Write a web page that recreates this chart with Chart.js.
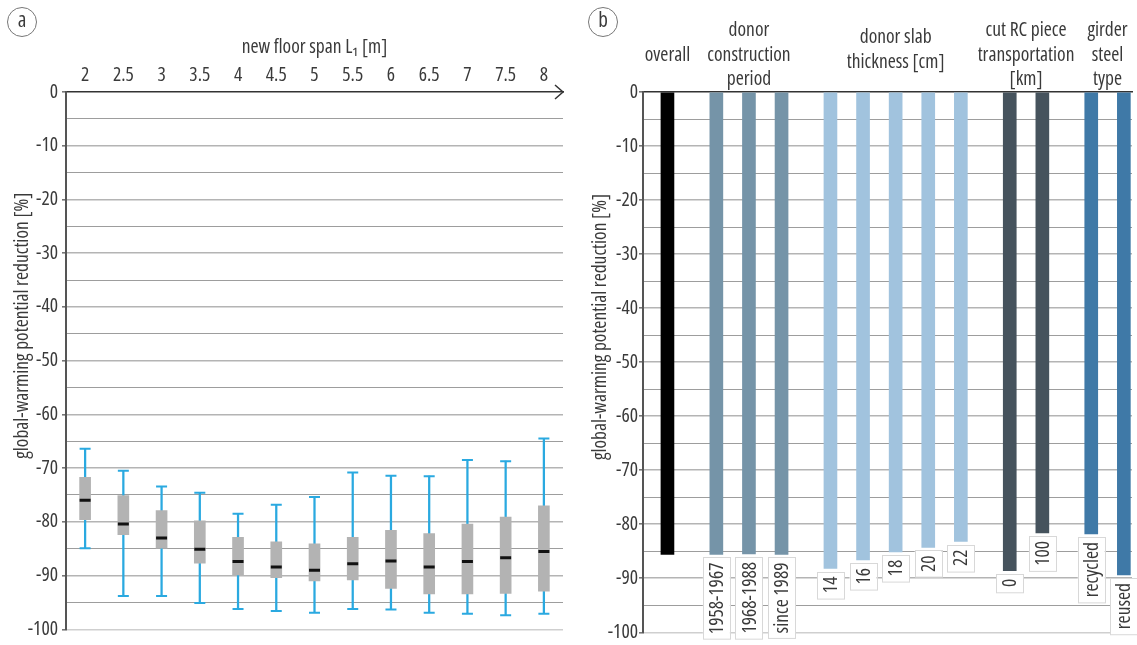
<!DOCTYPE html>
<html>
<head>
<meta charset="utf-8">
<script src="https://cdn.jsdelivr.net/npm/chart.js@4/dist/chart.umd.min.js"></script>
<style>
  html, body { margin: 0; padding: 0; background: #fff; }
  body { width: 1137px; height: 645px; position: relative; overflow: hidden; }
  #wrapA { position: absolute; left: 0; top: 0; width: 580px; height: 645px; }
  #wrapB { position: absolute; left: 580px; top: 0; width: 557px; height: 645px; }
</style>
</head>
<body>
<div id="wrapA"><canvas id="chartA" width="580" height="645"></canvas></div>
<div id="wrapB"><canvas id="chartB" width="557" height="645"></canvas></div>
<script>
// ---------- panel a : box plots per floor span ----------
const spanLabels = ['2', '2.5', '3', '3.5', '4', '4.5', '5', '5.5', '6', '6.5', '7', '7.5', '8'];
const whiskerTop = [-66.4, -70.5, -73.4, -74.6, -78.5, -76.8, -75.4, -70.8, -71.4, -71.5, -68.5, -68.7, -64.5];
const boxTop = [-71.7, -75.1, -77.9, -79.8, -82.9, -83.7, -84.1, -82.9, -81.6, -82.2, -80.4, -79.1, -77.0];
const medians = [-76.0, -80.4, -83.0, -85.1, -87.4, -88.4, -89.0, -87.8, -87.3, -88.4, -87.4, -86.7, -85.5];
const boxBottom = [-79.6, -82.4, -84.9, -87.7, -89.9, -90.4, -91.0, -90.8, -92.4, -93.4, -93.4, -93.3, -92.9];
const whiskerBottom = [-84.9, -93.8, -93.8, -95.1, -96.2, -96.6, -96.9, -96.2, -96.3, -96.9, -97.1, -97.4, -97.1];

// ---------- panel b : bars per parameter ----------
const slots = ['', 'overall', '', '', '1958-1967', '', '1968-1988', '', 'since 1989', '', '',
  '14', '', '16', '', '18', '', '20', '', '22', '', '', '0', '', '100', '', '', 'recycled', '', 'reused'];
const barNames = ['overall', '1958-1967', '1968-1988', 'since 1989', '14', '16', '18', '20', '22', '0', '100', 'recycled', 'reused'];
const barValues = [-85.6, -85.6, -85.5, -85.6, -88.2, -86.6, -85.1, -84.3, -83.2, -88.6, -81.6, -81.8, -89.4];
const barGroup = [0, 1, 1, 1, 2, 2, 2, 2, 2, 3, 3, 4, 4];
const groupTitles = [
  ['overall'],
  ['donor', 'construction', 'period'],
  ['donor slab', 'thickness [cm]'],
  ['cut RC piece', 'transportation', '[km]'],
  ['girder', 'steel', 'type']
];
const groupColors = ['#000000', '#7594a8', '#a1c3de', '#46535d', '#3f79a7'];

// Open Sans squeezed to its condensed width, close to the original typeface
const FONT = '"Open Sans", "DejaVu Sans Condensed", sans-serif';
const WEIGHT = '400 condensed';
const SIZE = 19.5;
const TEXT = '#3a3a3a';
const WHISKER = '#2aa9e0';
const Y_TITLE = 'global-warming potential reduction [%]';

Chart.defaults.font.family = FONT;
Chart.defaults.font.size = SIZE;
Chart.defaults.font.weight = WEIGHT;
Chart.defaults.color = TEXT;

function fontStr(size) {
  return `${WEIGHT} ${size}px ${FONT}`;
}

// shared y axis
function yAxis(width, labelPad) {
  return {
    min: -100,
    max: 0,
    afterFit: s => { s.width = width; },
    ticks: {
      stepSize: 5,
      autoSkip: false,
      padding: labelPad,
      callback: v => (v % 10 === 0 ? v : '')
    },
    grid: {
      color: c => {
        const v = c.tick.value;
        if (v === 0) return 'rgba(0,0,0,0)';
        if (v === -100) return '#cfcfcf';
        return v % 10 === 0 ? '#b4b4b4' : '#9d9d9d';
      },
      lineWidth: c => (c.tick.value % 10 === 0 ? 1.6 : 1),
      tickLength: 4,
      tickColor: c => (c.tick.value % 10 === 0 ? '#777' : 'rgba(0,0,0,0)')
    },
    border: { display: true, color: '#555', width: 2 },
    title: { display: false }
  };
}

// panel letter in a circle + the rotated y title (sits above the axis middle)
function panelDecor(letter, cx, titleX) {
  return {
    id: 'decor' + letter,
    afterDraw(chart) {
      const ctx = chart.ctx;
      ctx.save();
      ctx.beginPath();
      ctx.arc(cx, 22, 14.5, 0, Math.PI * 2);
      ctx.strokeStyle = '#777';
      ctx.lineWidth = 1;
      ctx.stroke();
      ctx.font = fontStr(21);
      ctx.fillStyle = TEXT;
      ctx.textAlign = 'center';
      ctx.textBaseline = 'middle';
      ctx.fillText(letter, cx, 21);

      const y = chart.scales.y.getPixelForValue(-43.5);
      ctx.font = fontStr(SIZE);
      ctx.translate(titleX, y);
      ctx.rotate(-Math.PI / 2);
      ctx.fillText(Y_TITLE, 0, 0);
      ctx.restore();
    }
  };
}

// arrow head on the top axis of panel a
const arrowPlugin = {
  id: 'arrow',
  afterDraw(chart) {
    const { right, top } = chart.chartArea;
    const ctx = chart.ctx;
    ctx.save();
    ctx.strokeStyle = '#333';
    ctx.lineWidth = 1.5;
    ctx.beginPath();
    ctx.moveTo(right - 8, top - 7);
    ctx.lineTo(right, top);
    ctx.lineTo(right - 8, top + 7);
    ctx.stroke();
    ctx.restore();
  }
};

new Chart(document.getElementById('chartA'), {
  type: 'bar',
  data: {
    labels: spanLabels,
    datasets: [
      {
        type: 'bar',
        data: whiskerBottom.map((lo, i) => [lo, whiskerTop[i]]),
        backgroundColor: WHISKER,
        barThickness: 1.6,
        grouped: false,
        order: 4
      },
      {
        type: 'bar',
        data: boxBottom.map((lo, i) => [lo, boxTop[i]]),
        backgroundColor: '#b3b3b3',
        barThickness: 11,
        grouped: false,
        order: 3
      },
      {
        type: 'line',
        data: whiskerTop,
        showLine: false,
        pointStyle: 'line',
        pointRadius: 5.5,
        pointBorderWidth: 2,
        borderColor: WHISKER,
        pointBorderColor: WHISKER,
        order: 2
      },
      {
        type: 'line',
        data: whiskerBottom,
        showLine: false,
        pointStyle: 'line',
        pointRadius: 5.5,
        pointBorderWidth: 2,
        borderColor: WHISKER,
        pointBorderColor: WHISKER,
        order: 2
      },
      {
        type: 'line',
        data: medians,
        showLine: false,
        pointStyle: 'line',
        pointRadius: 5.5,
        pointBorderWidth: 3,
        borderColor: '#111',
        pointBorderColor: '#111',
        order: 1
      }
    ]
  },
  options: {
    responsive: false,
    animation: false,
    layout: { padding: { left: 0, right: 17, top: 0, bottom: 10 } },
    plugins: { legend: { display: false }, tooltip: { enabled: false } },
    scales: {
      x: {
        type: 'category',
        position: 'top',
        offset: true,
        afterFit: s => { s.height = 92; },
        grid: { color: 'rgba(0,0,0,0)', drawTicks: false },
        border: { display: true, color: '#333', width: 1.5 },
        ticks: { padding: 5, autoSkip: false, maxRotation: 0 },
        title: { display: true, text: 'new floor span L\u2081 [m]', padding: { top: 36, bottom: 0 } }
      },
      y: yAxis(66, 4)
    }
  },
  plugins: [arrowPlugin, panelDecor('a', 22, 22)]
});

// boxed rotated labels under each bar, and group titles above
const barLabelPlugin = {
  id: 'barLabels',
  afterDatasetsDraw(chart) {
    const ctx = chart.ctx;
    const bars = chart.getDatasetMeta(0).data;
    ctx.save();
    ctx.font = fontStr(SIZE);
    bars.forEach((bar, i) => {
      if (barGroup[i] === 0) return;
      const label = barNames[i];
      const w = ctx.measureText(label).width;
      const boxW = 27, boxH = w + 10;
      const top = bar.y + 3;
      ctx.fillStyle = '#fff';
      ctx.fillRect(bar.x - boxW / 2, top, boxW, boxH);
      ctx.strokeStyle = '#d8d8d8';
      ctx.lineWidth = 1;
      ctx.strokeRect(Math.round(bar.x - boxW / 2) + 0.5, Math.round(top) + 0.5, boxW, boxH);
      ctx.save();
      ctx.translate(bar.x, top + 5);
      ctx.rotate(-Math.PI / 2);
      ctx.textAlign = 'right';
      ctx.textBaseline = 'middle';
      ctx.fillStyle = TEXT;
      ctx.fillText(label, 0, 1);
      ctx.restore();
    });
    // group titles
    ctx.textAlign = 'center';
    ctx.textBaseline = 'middle';
    ctx.fillStyle = TEXT;
    const lh = 24.5;
    groupTitles.forEach((lines, g) => {
      const xs = bars.filter((b, i) => barGroup[i] === g).map(b => b.x);
      const cx = (Math.min(...xs) + Math.max(...xs)) / 2;
      const mid = lines.length === 2 ? 50 : 55;
      const y0 = mid - (lines.length - 1) * lh / 2;
      lines.forEach((t, k) => ctx.fillText(t, cx, y0 + k * lh));
    });
    ctx.restore();
  }
};

new Chart(document.getElementById('chartB'), {
  type: 'bar',
  data: {
    labels: slots,
    datasets: [{
      data: barNames.map((n, i) => ({ x: n, y: barValues[i] })),
      backgroundColor: barGroup.map(g => groupColors[g]),
      barThickness: 13,
      grouped: false
    }]
  },
  options: {
    responsive: false,
    animation: false,
    layout: { padding: { left: 0, right: 5, top: 0, bottom: 10 } },
    plugins: { legend: { display: false }, tooltip: { enabled: false } },
    scales: {
      x: {
        type: 'category',
        position: 'top',
        offset: true,
        afterFit: s => { s.height = 92; },
        grid: { color: 'rgba(0,0,0,0)', drawTicks: false },
        border: { display: true, color: '#333', width: 1.5 },
        ticks: { display: false }
      },
      y: yAxis(63, 1)
    }
  },
  plugins: [barLabelPlugin, panelDecor('b', 23, 20)]
});
</script>
</body>
</html>
